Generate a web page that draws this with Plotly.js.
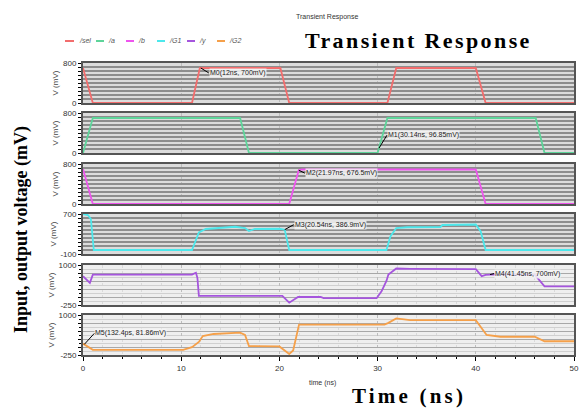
<!DOCTYPE html>
<html><head><meta charset="utf-8">
<script src="https://cdn.plot.ly/plotly-3.0.1.min.js"></script>
<style>
body{margin:0;background:#fff}#chart{width:580px;height:410px}
text[data-unformatted="<b>Transient Response</b>"]{letter-spacing:2.4px}
text[data-unformatted="<b>Time (ns)</b>"]{letter-spacing:3.2px}
</style>
</head><body><div id="chart"></div>
<script>
// ---- data (time in ns, voltage in mV) ----
const seriesNames = ['/sel','/a','/b','/G1','/y','/G2'];
const seriesColors = ['#f26d6d','#5ed49a','#ee55ee','#4de8ec','#a555dd','#f5a04a'];

const selT = [0,1.0,11.1,11.9,20.1,21.0,31.0,31.9,40.0,41.0,50];
const selV = [700,0,0,700,700,0,0,700,700,0,0];

const aT = [0,1.0,16.0,16.9,30.0,31.0,46.1,47.0,50];
const aV = [0,700,700,0,0,700,700,0,0];

const bT = [0,1.0,21.0,21.97,22.3,40.0,41.0,50];
const bV = [700,0,0,676.5,690,690,0,0];

const g1T = [0,0.5,0.8,1.1,11.1,11.5,11.8,12.5,14,15.5,16.5,16.9,17.5,19,20,20.54,21.0,30.9,31.3,31.9,33,36.4,36.6,40,40.5,41,50];
const g1V = [700,680,600,-20,-20,200,330,400,430,445,420,360,400,410,405,386.9,-20,-20,250,420,435,440,480,490,350,-20,-20];

const yT = [0,0.7,1.0,11.1,11.5,11.65,11.8,20.3,21.0,21.9,24.2,24.5,29.9,30.4,30.9,31.1,31.9,33.3,40.0,40.6,41.0,41.45,46.0,47.0,50];
const yV = [650,440,700,700,758,600,36,36,-177,0,0,-37,-37,175,500,704,890,880,870,650,690,700,700,332,332];

const g2T = [0,0.1324,1.0,10.2,11.1,11.8,12.2,13.3,16.0,16.5,16.9,20.0,20.5,21.0,21.4,21.8,22.0,30.7,31.1,31.9,33.3,40.0,40.6,41.1,42.5,46.0,47.0,50];
const g2V = [106,81.86,-89,-89,-4,158,342,407,450,375,28,18,-111,-218,-111,482,700,700,754,893,838,838,569,375,320,320,180,180];

const yRanges = [[0,800],[0,800],[0,800],[-100,700],[-250,1000],[-250,1000]];
const yTickStep = [80,80,80,80,250,250];
const xTickVals = [0,10,20,30,40,50];

const markers = [
  {panel:0, x:12, y:700, text:'M0(12ns, 700mV)', ax:8, ay:5},
  {panel:1, x:30.14, y:96.85, text:'M1(30.14ns, 96.85mV)', ax:8, ay:-13},
  {panel:2, x:21.97, y:676.5, text:'M2(21.97ns, 676.5mV)', ax:6, ay:3},
  {panel:3, x:20.54, y:386.9, text:'M3(20.54ns, 386.9mV)', ax:9, ay:-5},
  {panel:4, x:41.45, y:700, text:'M4(41.45ns, 700mV)', ax:4, ay:-1},
  {panel:5, x:0.1324, y:81.86, text:'M5(132.4ps, 81.86mV)', ax:10, ay:-11}
];

// ---- layout geometry ----
const W = 580, H = 410, ML = 83, MR = 6, MT = 63, MB = 55;
const PW = W-ML-MR, PH = H-MT-MB;
const px2x = p => (p-ML)/PW;
const px2y = p => (H-MB-p)/PH;
const panelPx = [[63,103],[113,153],[164,204],[214,254],[265,305],[315,355]];

const T = [[selT,selV],[aT,aV],[bT,bV],[g1T,g1V],[yT,yV],[g2T,g2V]];
const sfx = i => i===0 ? '' : String(i+1);

const traces = T.map((d,i)=>({
  x:d[0], y:d[1], type:'scatter', mode:'lines', name:seriesNames[i],
  line:{color:seriesColors[i], width:1.8},
  xaxis:'x'+sfx(i), yaxis:'y'+sfx(i), showlegend:false, hoverinfo:'skip'
}));

const layout = {
  width:W, height:H, margin:{l:ML,r:MR,t:MT,b:MB},
  paper_bgcolor:'#fff', plot_bgcolor:'rgba(0,0,0,0)',
  font:{family:'Liberation Sans, Arial, sans-serif', size:8, color:'#333'},
  showlegend:false, shapes:[], annotations:[]
};

for (let i=0;i<6;i++){
  const s = sfx(i);
  const [lo,hi] = yRanges[i];
  const step = yTickStep[i];
  const tv=[], tt=[];
  for (let v=lo; v<=hi+1e-9; v+=step){ tv.push(v); tt.push((v===lo||v===hi)?String(v):''); }
  const dense = i<4;
  layout['yaxis'+s] = {
    domain:[px2y(panelPx[i][1]), px2y(panelPx[i][0])],
    anchor:'x'+s, range:[lo,hi], fixedrange:true,
    tickvals:tv, ticktext:tt, ticks:'outside', ticklen:3, tickwidth:1, tickcolor:'#000',
    tickfont:{size:8,color:'#333'},
    showgrid:true, gridcolor: dense ? '#8d8d8d' : '#a8a8a8', gridwidth: dense ? 1.3 : 1,
    minor: dense ? {showgrid:false} : {dtick:125, tick0:lo, showgrid:true, gridcolor:'#d0d0d0', gridwidth:1, ticks:'outside', ticklen:2, tickcolor:'#000'},
    zeroline:false, showline:true, mirror:true, linecolor:'#555', linewidth:2,
    title:{text:'V (mV)', font:{size:8,color:'#444'}, standoff:3}
  };
  layout['xaxis'+s] = {
    domain:[0,1], anchor:'y'+s, range:[0,50], fixedrange:true,
    tickvals:xTickVals, showticklabels: i===5,
    ticks: i===5 ? 'outside' : '', ticklen:4, tickcolor:'#000',
    tickfont:{size:8,color:'#333'},
    showgrid:true, gridcolor:'#bdbdbd', gridwidth:1, griddash:'dot',
    minor: dense ? {showgrid:false} : {dtick:2, showgrid:true, gridcolor:'#dadada', gridwidth:1, ticks: i===5?'outside':'', ticklen:2, tickcolor:'#000'},
    zeroline:false, showline:true, mirror:true, linecolor:'#555', linewidth:2
  };
  layout.shapes.push({type:'rect', xref:'x'+s+' domain', yref:'y'+s+' domain', x0:0,x1:1,y0:0,y1:1,
    fillcolor: dense ? '#dcdcdc' : '#efefef', line:{width:0}, layer:'below'});
}

// marker annotations
markers.forEach(m=>{
  const s = sfx(m.panel);
  layout.annotations.push({x:m.x, y:m.y, xref:'x'+s, yref:'y'+s, text:m.text,
    showarrow:true, arrowhead:0, arrowwidth:1, arrowcolor:'#000', ax:m.ax, ay:m.ay,
    xanchor:'left', yanchor:'middle', font:{size:7,color:'#222'},
    bgcolor:'rgba(245,245,245,0.85)', borderpad:0});
});

// legend built from series names and colours
const legendX = [[65,74,77],[96,104,106],[126,134,136],[157,165,167],[187,195,197],[217,225,227]];
seriesNames.forEach((n,i)=>{
  const [a,b,t] = legendX[i];
  layout.shapes.push({type:'line', xref:'paper', yref:'paper', x0:px2x(a), x1:px2x(b), y0:px2y(41), y1:px2y(41),
    line:{color:seriesColors[i], width:2}});
  layout.annotations.push({xref:'paper', yref:'paper', x:px2x(t), y:px2y(41), text:'<i>'+n+'</i>',
    showarrow:false, xanchor:'left', yanchor:'middle', font:{size:7,color:'#555'}});
});

// titles and axis labels
layout.annotations.push(
  {xref:'paper', yref:'paper', x:px2x(327), y:px2y(17), text:'Transient Response', showarrow:false,
   font:{size:7,color:'#333'}, xanchor:'center', yanchor:'middle'},
  {xref:'paper', yref:'paper', x:px2x(418), y:px2y(40), text:'<b>Transient Response</b>', showarrow:false,
   font:{family:'Liberation Serif, Times New Roman, serif', size:22, color:'#000'}, xanchor:'center', yanchor:'middle'},
  {xref:'paper', yref:'paper', x:px2x(21), y:px2y(230), text:'<b>Input, output voltage (mV)</b>', showarrow:false, textangle:-90,
   font:{family:'Liberation Serif, Times New Roman, serif', size:18, color:'#000'}, xanchor:'center', yanchor:'middle'},
  {xref:'paper', yref:'paper', x:px2x(322), y:px2y(383), text:'time (ns)', showarrow:false,
   font:{size:7,color:'#333'}, xanchor:'center', yanchor:'middle'},
  {xref:'paper', yref:'paper', x:px2x(409), y:px2y(396), text:'<b>Time (ns)</b>', showarrow:false,
   font:{family:'Liberation Serif, Times New Roman, serif', size:21, color:'#000'}, xanchor:'center', yanchor:'middle'}
);

Plotly.newPlot('chart', traces, layout, {staticPlot:true, displayModeBar:false});
</script></body></html>
